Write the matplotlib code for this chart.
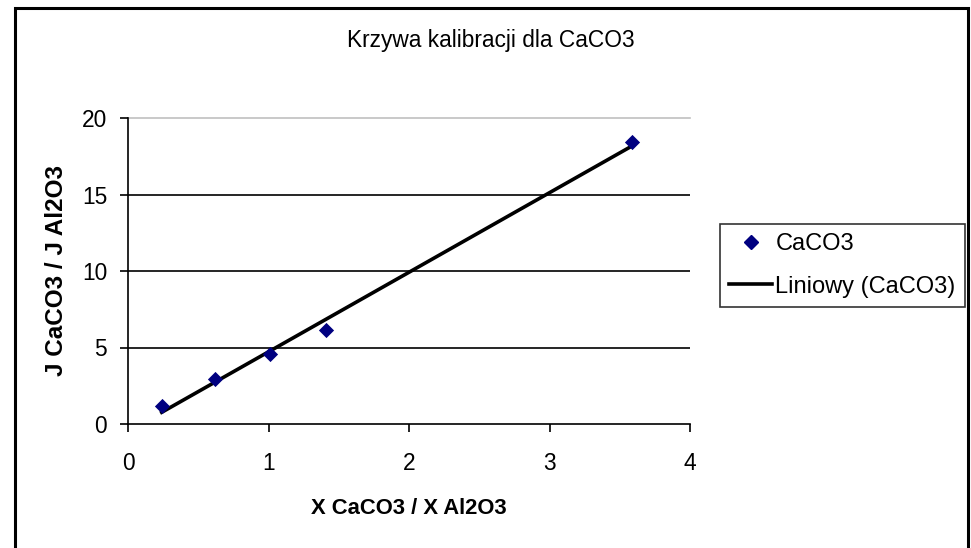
import numpy as np
import matplotlib
matplotlib.use("Agg")
import matplotlib.pyplot as plt
from matplotlib.patches import Rectangle
from matplotlib.lines import Line2D

plt.rcParams['font.family'] = ['Liberation Sans', 'DejaVu Sans']

# measured ratios
x_ratio = [0.24, 0.62, 1.01, 1.41, 3.59]
j_ratio = [1.18, 2.95, 4.58, 6.15, 18.45]
x_ticks = [0, 1, 2, 3, 4]
y_ticks = [0, 5, 10, 15, 20]

fig = plt.figure(figsize=(9.71, 5.48), dpi=100)
ax = fig.add_axes([128 / 971, 1 - 424 / 548, 562 / 971, 306 / 548])

# outer chart border
fig.patches.append(Rectangle((15 / 971, -0.05), 953 / 971, 1.05 - 8 / 548,
                             transform=fig.transFigure, fill=False,
                             edgecolor='black', linewidth=2.2, clip_on=False))

for yv in y_ticks[1:-1]:
    ax.axhline(yv, color='black', linewidth=1.2, zorder=1)
ax.axhline(y_ticks[-1], color='#c0c0c0', linewidth=1.2, zorder=1, clip_on=False)

# linear trend line
slope, intercept = np.polyfit(x_ratio, j_ratio, 1)
xs = np.array([min(x_ratio), max(x_ratio)])
ax.plot(xs, slope * xs + intercept, color='black', linewidth=2.6, zorder=3)

ax.scatter(x_ratio, j_ratio, marker='D', s=60, color='#000080', zorder=4,
           linewidths=0)

ax.set_xlim(0, 4)
ax.set_ylim(0, 20)
ax.set_xticks(x_ticks)
ax.set_yticks(y_ticks)
ax.tick_params(direction='out', length=6, width=1.2, labelsize=16.4)
ax.tick_params(axis='x', pad=14)
ax.tick_params(axis='y', pad=9)
for s in ['top', 'right']:
    ax.spines[s].set_visible(False)
for s in ['left', 'bottom']:
    ax.spines[s].set_linewidth(1.2)

ax.set_xlabel('X CaCO3 / X Al2O3', fontsize=15.8, fontweight='bold')
ax.set_ylabel('J CaCO3 / J Al2O3', fontsize=17.5, fontweight='bold')
ax.xaxis.set_label_coords(0.5, (424 - 508) / 306)
ax.yaxis.set_label_coords((57 - 128) / 562, 0.5)
ax.xaxis.label.set_va('center')
ax.yaxis.label.set_va('center')

fig.text(491 / 971, 1 - 40 / 548, 'Krzywa kalibracji dla CaCO3', ha='center',
         va='center', fontsize=16.4)

handles = [Line2D([], [], marker='D', linestyle='none', color='#000080',
                  markersize=7),
           Line2D([], [], color='black', linewidth=2.6)]
leg = fig.legend(handles, ['CaCO3', 'Liniowy (CaCO3)'],
                 loc='upper left', bbox_to_anchor=(720 / 971, 1 - 224 / 548),
                 fontsize=17, frameon=True, fancybox=False, handlelength=1.8,
                 handletextpad=0.15, borderpad=0.4, labelspacing=0.85,
                 borderaxespad=0)
leg.get_frame().set_edgecolor('black')
leg.get_frame().set_linewidth(1.2)

fig.savefig('out.png', dpi=100)
